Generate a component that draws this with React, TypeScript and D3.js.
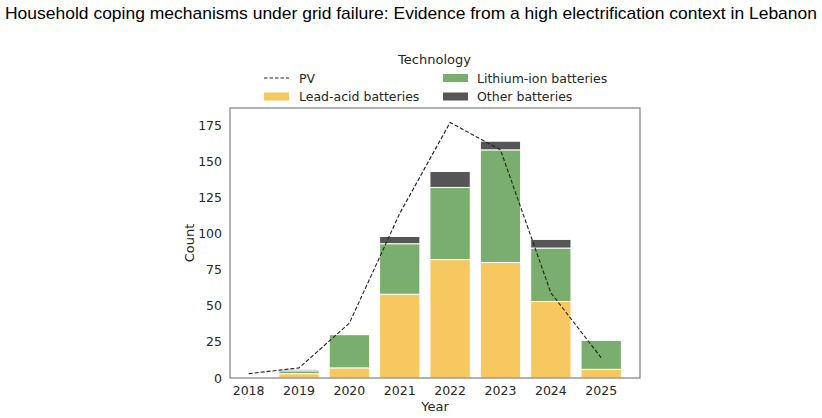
import React from "react";
import * as d3 from "d3";

const years = [2018, 2019, 2020, 2021, 2022, 2023, 2024, 2025];
const leadAcid = [0, 3, 7, 58, 82, 80, 53, 6];
const lithiumIon = [0, 2, 23, 35, 50, 78, 37, 20];
const otherBatteries = [0, 1, 0, 5, 11, 6, 6, 0];
const pv = [3, 7, 38, 114, 177, 158, 59, 14];
const yTicks = [0, 25, 50, 75, 100, 125, 150, 175];

const seriesNames = ["Lead-acid batteries", "Lithium-ion batteries", "Other batteries"];
const colors = ["#F6C85F", "#7AAE6E", "#555555"];

export default function App() {
  const W = 822, H = 418;
  const left = 230, right = 640, top = 108, bottom = 378;
  const x = d3.scaleLinear().domain([2017.63, 2025.77]).range([left, right]);
  const y = d3.scaleLinear().domain([0, 187]).range([bottom, top]);
  const barW = x(0.8) - x(0);

  const table = years.map((yr, i) => ({
    year: yr,
    "Lead-acid batteries": leadAcid[i],
    "Lithium-ion batteries": lithiumIon[i],
    "Other batteries": otherBatteries[i],
  }));
  const stacked = d3.stack<any>().keys(seriesNames)(table);

  const line = d3
    .line<number>()
    .x((_, i) => x(years[i]))
    .y((d) => y(d));

  const font = "DejaVu Sans, sans-serif";
  const textCol = "#262626";

  return (
    <svg width={W} height={H} style={{ position: "absolute", left: 0, top: 0 }} fontFamily={font}>
      <rect width={W} height={H} fill="#fff" />
      <text x={411} y={19} textAnchor="middle" fontSize={17} fill="#000" textLength={812} lengthAdjust="spacingAndGlyphs" fontFamily="Liberation Sans, sans-serif">
        Household coping mechanisms under grid failure: Evidence from a high electrification context in Lebanon
      </text>

      {/* legend */}
      <text x={434.5} y={64} textAnchor="middle" fontSize={13} fill={textCol}>Technology</text>
      <line x1={264} x2={289} y1={78} y2={78} stroke="#222" strokeWidth={1.2} strokeDasharray="3.5,2" />
      <text x={299} y={82.5} fontSize={12.5} fill={textCol}>PV</text>
      <rect x={264} y={92.5} width={25} height={8} fill={colors[0]} />
      <text x={299} y={101} fontSize={12.5} fill={textCol}>Lead-acid batteries</text>
      <rect x={443} y={74} width={25} height={8} fill={colors[1]} />
      <text x={477} y={82.5} fontSize={12.5} fill={textCol}>Lithium-ion batteries</text>
      <rect x={443} y={92.5} width={25} height={8} fill={colors[2]} />
      <text x={477} y={101} fontSize={12.5} fill={textCol}>Other batteries</text>

      {/* bars */}
      {stacked.map((s, si) => (
        <g key={si} fill={colors[si]}>
          {s.map((d, i) =>
            d[1] - d[0] > 0 ? (
              <rect
                key={i}
                x={x(years[i]) - barW / 2}
                y={y(d[1])}
                width={barW}
                height={y(d[0]) - y(d[1])}
                stroke="#fff"
                strokeWidth={1}
              />
            ) : null
          )}
        </g>
      ))}

      {/* PV line */}
      <path d={line(pv) || ""} fill="none" stroke="#222" strokeWidth={1.1} strokeDasharray="4,2" />

      {/* frame */}
      <rect x={left} y={top} width={right - left} height={bottom - top} fill="none" stroke="#7f7f7f" strokeWidth={1.2} />

      {/* y ticks */}
      {yTicks.map((t) => (
        <text key={t} x={left - 8} y={y(t) + 4.5} textAnchor="end" fontSize={12.5} fill={textCol}>{t}</text>
      ))}
      {/* x ticks */}
      {years.map((yr) => (
        <text key={yr} x={x(yr)} y={bottom + 17} textAnchor="middle" fontSize={12.5} fill={textCol}>{yr}</text>
      ))}
      <text x={435} y={411} textAnchor="middle" fontSize={13} fill={textCol}>Year</text>
      <text transform={`translate(194,${(top + bottom) / 2}) rotate(-90)`} textAnchor="middle" fontSize={13} fill={textCol}>Count</text>
    </svg>
  );
}
